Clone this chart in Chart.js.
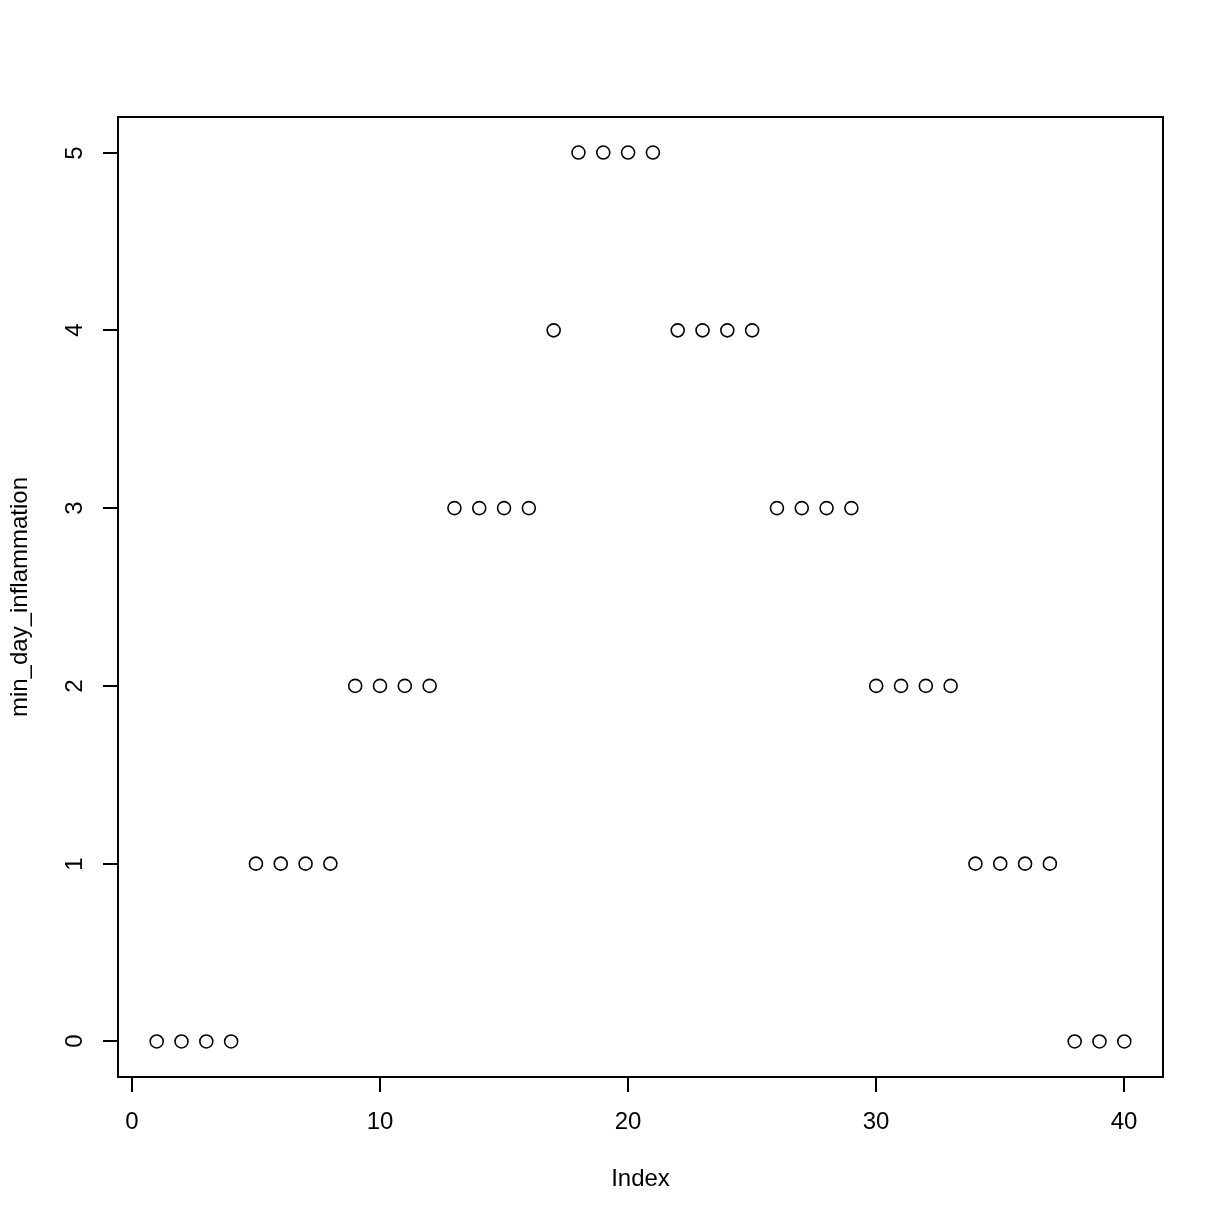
<!DOCTYPE html>
<html>
<head>
<meta charset="utf-8">
<script src="https://cdn.jsdelivr.net/npm/chart.js@4/dist/chart.umd.min.js"></script>
<style>
  html, body { margin: 0; padding: 0; background: #fff; }
  canvas { display: block; }
</style>
</head>
<body>
<canvas id="plot" width="1224" height="1224"></canvas>
<script>
// valeurs
const indexValues = [1,2,3,4,5,6,7,8,9,10,11,12,13,14,15,16,17,18,19,20,
                     21,22,23,24,25,26,27,28,29,30,31,32,33,34,35,36,37,38,39,40];
const minDayInflammation = [0,0,0,0,1,1,1,1,2,2,2,2,3,3,3,3,4,5,5,5,
                            5,4,4,4,4,3,3,3,3,2,2,2,2,1,1,1,1,0,0,0];
const xTicks = [0, 10, 20, 30, 40];
const yTicks = [0, 1, 2, 3, 4, 5];

const FONT = "24px 'Liberation Sans', Arial, sans-serif";

// axes façon R base graphics (boîte + graduations extérieures)
const rAxes = {
    id: "rAxes",
    afterDraw(chart) {
        const ctx = chart.ctx;
        const area = chart.chartArea;
        const sx = chart.scales.x;
        const sy = chart.scales.y;
        ctx.save();
        ctx.strokeStyle = "#000";
        ctx.fillStyle = "#000";
        ctx.lineWidth = 2;
        ctx.strokeRect(area.left, area.top, area.right - area.left, area.bottom - area.top);

        ctx.font = FONT;
        // axe x
        ctx.textAlign = "center";
        ctx.textBaseline = "middle";
        xTicks.forEach(v => {
            const px = Math.round(sx.getPixelForValue(v));
            ctx.beginPath();
            ctx.moveTo(px, area.bottom);
            ctx.lineTo(px, area.bottom + 15);
            ctx.stroke();
            ctx.fillText(String(v), px, area.bottom + 45);
        });
        ctx.fillText("Index", (area.left + area.right) / 2, area.bottom + 102);

        // axe y
        yTicks.forEach(v => {
            const py = Math.round(sy.getPixelForValue(v));
            ctx.beginPath();
            ctx.moveTo(area.left, py);
            ctx.lineTo(area.left - 15, py);
            ctx.stroke();
            ctx.save();
            ctx.translate(area.left - 43, py);
            ctx.rotate(-Math.PI / 2);
            ctx.fillText(String(v), 0, 0);
            ctx.restore();
        });
        ctx.save();
        ctx.translate(20, (area.top + area.bottom) / 2);
        ctx.rotate(-Math.PI / 2);
        ctx.fillText("min_day_inflammation", 0, 0);
        ctx.restore();
        ctx.restore();
    }
};

const ctx = document.getElementById("plot").getContext("2d");
new Chart(ctx, {
    type: "scatter",
    data: {
        datasets: [{
            label: "min_day_inflammation",
            data: indexValues.map((x, i) => ({ x: x, y: minDayInflammation[i] })),
            pointStyle: "circle",
            pointRadius: 6.5,
            pointHoverRadius: 6.5,
            pointBorderWidth: 1.6,
            borderColor: "#000",
            backgroundColor: "rgba(0,0,0,0)"
        }]
    },
    options: {
        responsive: false,
        devicePixelRatio: 1,
        animation: false,
        layout: { padding: { left: 118, top: 117, right: 61, bottom: 147 } },
        plugins: {
            legend: { display: false },
            tooltip: { enabled: false }
        },
        scales: {
            x: { type: "linear", min: -0.56, max: 41.56, display: false },
            y: { type: "linear", min: -0.2, max: 5.2, display: false }
        }
    },
    plugins: [rAxes]
});
</script>
</body>
</html>
